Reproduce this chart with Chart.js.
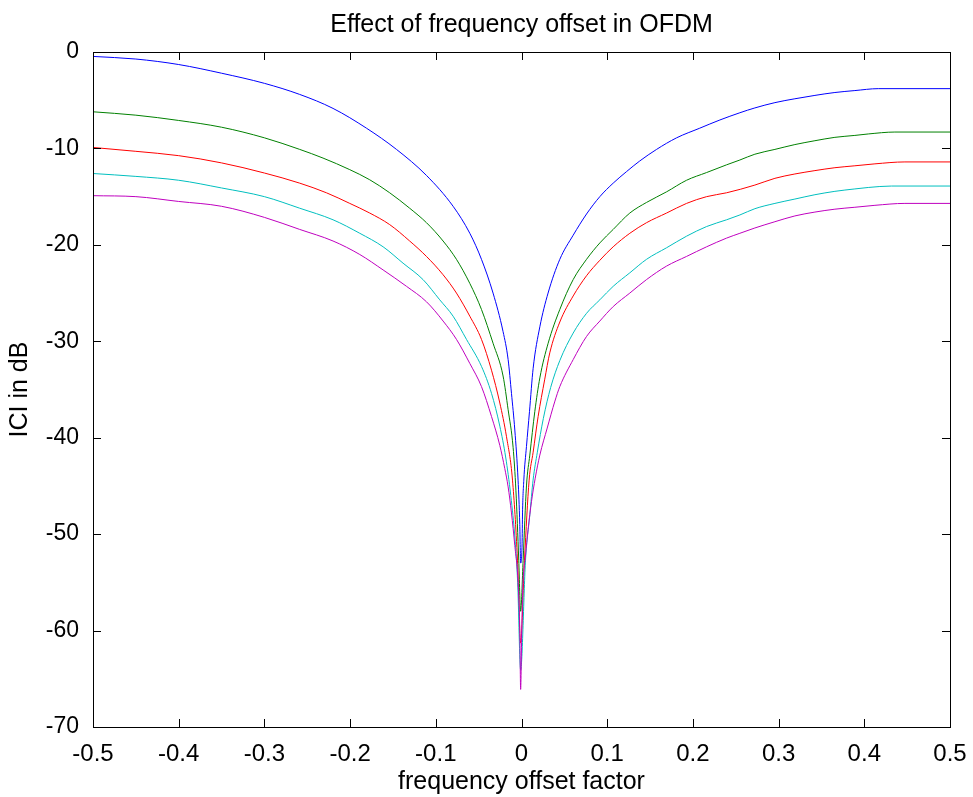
<!DOCTYPE html>
<html>
<head>
<meta charset="utf-8">
<title>Effect of frequency offset in OFDM</title>
<script src="https://cdn.jsdelivr.net/npm/chart.js@4.4.0/dist/chart.umd.min.js"></script>
<style>
  body { margin: 0; background: #fff; }
  canvas { display: block; }
</style>
</head>
<body>
<canvas id="ici-chart" width="973" height="797"></canvas>
<script>
// tick values of both axes
const xTicks = [-0.5, -0.4, -0.3, -0.2, -0.1, 0, 0.1, 0.2, 0.3, 0.4, 0.5];
const yTicks = [-70, -60, -50, -40, -30, -20, -10, 0];

const chartTitle = 'Effect of frequency offset in OFDM';

// [frequency offset factor, ICI in dB]
const blue = [[-0.5,-0.46],[-0.45,-0.73],[-0.4,-1.3],[-0.35,-2.2],[-0.3,-3.25],[-0.2588,-4.4],[-0.2199,-5.85],[-0.1809,-7.9],[-0.1459,-10.1],[-0.1109,-12.8],[-0.0798,-16.0],[-0.0603,-18.8],[-0.0467,-21.5],[-0.0332,-25.0],[-0.0215,-29.0],[-0.0156,-31.9],[-0.0117,-35.4],[-0.0078,-39.2],[-0.004,-44.4],[-0.002,-49.0],[-0.001,-53.0],[0.0007,-51.0],[0.0012,-47.8],[0.0027,-44.4],[0.0058,-40.9],[0.0093,-37.3],[0.0136,-32.8],[0.0214,-28.5],[0.031,-25.0],[0.0447,-21.5],[0.0603,-19.0],[0.0759,-16.8],[0.0914,-15.0],[0.107,-13.6],[0.1226,-12.4],[0.138,-11.3],[0.1576,-10.1],[0.181,-8.9],[0.208,-7.9],[0.2315,-7.05],[0.2548,-6.3],[0.2723,-5.8],[0.2957,-5.25],[0.319,-4.85],[0.3424,-4.5],[0.3657,-4.2],[0.389,-4.0],[0.4163,-3.8],[0.5,-3.8]];
const green = [[-0.5,-6.2],[-0.45,-6.55],[-0.4,-7.1],[-0.35,-7.8],[-0.3,-8.9],[-0.2588,-10.1],[-0.2316,-11.0],[-0.2004,-12.2],[-0.1771,-13.25],[-0.1538,-14.6],[-0.1305,-16.2],[-0.1109,-17.7],[-0.0915,-19.6],[-0.0759,-21.5],[-0.0603,-24.0],[-0.0467,-26.7],[-0.0332,-30.2],[-0.0215,-33.6],[-0.0156,-37.1],[-0.0098,-41.0],[-0.0065,-45.5],[-0.0032,-52.7],[-0.001,-58.0],[0.0019,-52.7],[0.0058,-45.0],[0.0097,-41.8],[0.0155,-37.3],[0.0214,-33.8],[0.0311,-30.2],[0.0447,-26.7],[0.0603,-23.6],[0.0759,-21.5],[0.0914,-19.8],[0.107,-18.4],[0.1264,-16.7],[0.1459,-15.6],[0.1693,-14.5],[0.1926,-13.3],[0.216,-12.5],[0.2393,-11.7],[0.2548,-11.2],[0.2723,-10.6],[0.2957,-10.1],[0.319,-9.6],[0.3424,-9.2],[0.3657,-8.85],[0.389,-8.65],[0.4046,-8.5],[0.4357,-8.3],[0.5,-8.3]];
const red = [[-0.5,-9.9],[-0.45,-10.3],[-0.4,-10.75],[-0.35,-11.5],[-0.3,-12.55],[-0.2588,-13.6],[-0.2276,-14.6],[-0.2004,-15.7],[-0.1771,-16.7],[-0.1538,-17.9],[-0.1305,-19.6],[-0.1109,-21.2],[-0.0915,-23.1],[-0.0759,-25.0],[-0.0603,-27.4],[-0.0467,-29.8],[-0.035,-33.0],[-0.0253,-36.4],[-0.0175,-39.9],[-0.0105,-44.4],[-0.0047,-52.7],[-0.001,-61.3],[0.0035,-52.7],[0.0089,-44.4],[0.0136,-41.5],[0.0194,-37.8],[0.027,-34.0],[0.033,-31.2],[0.0447,-28.0],[0.0603,-25.3],[0.0759,-23.2],[0.0914,-21.6],[0.107,-20.2],[0.1264,-18.8],[0.1459,-17.7],[0.1693,-16.7],[0.1926,-15.7],[0.216,-15.0],[0.2393,-14.6],[0.2723,-13.8],[0.2957,-13.1],[0.319,-12.65],[0.3424,-12.3],[0.3657,-12.0],[0.389,-11.8],[0.4124,-11.6],[0.4474,-11.4],[0.5,-11.4]];
const cyan = [[-0.5,-12.6],[-0.45,-12.9],[-0.4,-13.3],[-0.35,-14.1],[-0.3,-15.0],[-0.2588,-16.2],[-0.2199,-17.4],[-0.1887,-18.8],[-0.1615,-20.2],[-0.1382,-21.9],[-0.1149,-23.6],[-0.0954,-25.7],[-0.0798,-27.4],[-0.0642,-29.8],[-0.0467,-32.6],[-0.035,-35.4],[-0.0253,-38.8],[-0.0185,-42.0],[-0.0125,-46.0],[-0.0075,-50.6],[-0.0045,-55.0],[-0.001,-64.1],[0.0047,-52.7],[0.0097,-48.0],[0.0135,-44.4],[0.0185,-41.5],[0.0255,-38.0],[0.034,-34.8],[0.0447,-32.0],[0.0603,-29.15],[0.0759,-27.1],[0.0914,-25.7],[0.107,-24.3],[0.1264,-22.9],[0.1459,-21.5],[0.1693,-20.3],[0.1926,-19.1],[0.216,-18.1],[0.2393,-17.4],[0.2548,-16.9],[0.2723,-16.25],[0.2957,-15.7],[0.319,-15.25],[0.3424,-14.8],[0.3657,-14.45],[0.389,-14.2],[0.4046,-14.05],[0.4317,-13.9],[0.5,-13.9]];
const magenta = [[-0.5,-14.9],[-0.45,-15.0],[-0.4,-15.5],[-0.35,-16.0],[-0.3,-17.15],[-0.2588,-18.4],[-0.2199,-19.6],[-0.1887,-21.0],[-0.1615,-22.6],[-0.1342,-24.3],[-0.1109,-25.9],[-0.0915,-27.9],[-0.0759,-29.8],[-0.0603,-32.3],[-0.0467,-34.7],[-0.035,-37.8],[-0.0253,-40.8],[-0.0195,-43.2],[-0.0156,-45.1],[-0.0117,-47.8],[-0.0078,-51.2],[-0.004,-55.0],[-0.002,-60.0],[-0.001,-66.1],[0.0003,-60.0],[0.0015,-55.5],[0.0045,-52.4],[0.0077,-49.5],[0.0117,-46.6],[0.016,-44.2],[0.0214,-41.8],[0.03,-39.0],[0.039,-36.2],[0.0447,-34.7],[0.0603,-31.9],[0.0759,-29.5],[0.0914,-27.9],[0.107,-26.4],[0.1264,-25.0],[0.1459,-23.6],[0.1693,-22.2],[0.1926,-21.2],[0.216,-20.2],[0.2393,-19.3],[0.2548,-18.8],[0.2723,-18.25],[0.2957,-17.6],[0.319,-17.0],[0.3424,-16.6],[0.3657,-16.3],[0.389,-16.1],[0.4124,-15.9],[0.4474,-15.7],[0.5,-15.7]];

const seriesList   = [blue, green, red, cyan, magenta];
const seriesColors = ['#0000ff', '#008000', '#ff0000', '#00bfbf', '#bf00bf'];

const FONT = "'Liberation Sans', Arial, Helvetica, sans-serif";

// MATLAB style box with inward ticks, title centred over the axes
const boxPlugin = {
  id: 'box',
  afterDraw: function(chart) {
    const ctx = chart.ctx;
    const a = chart.chartArea;
    const xs = chart.scales.x, ys = chart.scales.y;
    ctx.save();
    ctx.strokeStyle = '#000';
    ctx.lineWidth = 1;
    ctx.beginPath();
    xTicks.forEach(function(v) {
      const px = Math.round(xs.getPixelForValue(v)) + 0.5;
      ctx.moveTo(px, a.bottom); ctx.lineTo(px, a.bottom - 8);
      ctx.moveTo(px, a.top);    ctx.lineTo(px, a.top + 8);
    });
    yTicks.forEach(function(v) {
      const py = Math.round(ys.getPixelForValue(v)) + 0.5;
      ctx.moveTo(a.left, py);  ctx.lineTo(a.left + 8, py);
      ctx.moveTo(a.right, py); ctx.lineTo(a.right - 8, py);
    });
    ctx.stroke();
    ctx.strokeRect(Math.round(a.left) + 0.5, Math.round(a.top) + 0.5,
                   Math.round(a.right - a.left), Math.round(a.bottom - a.top));

    ctx.fillStyle = '#000';
    ctx.font = '25px ' + FONT;
    ctx.textAlign = 'center';
    ctx.textBaseline = 'alphabetic';
    ctx.fillText(chartTitle, (a.left + a.right) / 2, 32);
    ctx.restore();
  }
};

new Chart(document.getElementById('ici-chart'), {
  type: 'line',
  data: {
    datasets: seriesList.map(function(s, i) {
      return {
        data: s.map(function(p) { return { x: p[0], y: p[1] }; }),
        borderColor: seriesColors[i],
        borderWidth: 1,
        pointRadius: 0,
        cubicInterpolationMode: 'monotone',
        fill: false,
        order: seriesList.length - i
      };
    })
  },
  options: {
    responsive: false,
    animation: false,
    devicePixelRatio: 1,
    layout: { padding: { left: 0, right: 23, top: 52, bottom: 0 } },
    plugins: {
      legend: { display: false },
      tooltip: { enabled: false },
      title: { display: false }
    },
    scales: {
      x: {
        type: 'linear',
        min: -0.5, max: 0.5,
        afterBuildTicks: function(scale) { scale.ticks = xTicks.map(function(v) { return { value: v }; }); },
        afterFit: function(scale) { scale.height = 70; },
        grid: { display: false },
        border: { display: false },
        ticks: {
          color: '#000', padding: 5, maxRotation: 0, autoSkip: false,
          font: { family: FONT, size: 24 },
          callback: function(v) { return v === 0 ? '0' : v.toFixed(1); }
        },
        title: {
          display: true, text: 'frequency offset factor', color: '#000',
          font: { family: FONT, size: 25 },
          padding: { top: 0, bottom: 0 }
        }
      },
      y: {
        type: 'linear',
        min: -70, max: 0,
        afterBuildTicks: function(scale) { scale.ticks = yTicks.map(function(v) { return { value: v }; }); },
        afterFit: function(scale) { scale.width = 93; },
        grid: { display: false },
        border: { display: false },
        ticks: {
          color: '#000', padding: 6, autoSkip: false,
          font: { family: FONT, size: 23 }
        },
        title: {
          display: true, text: 'ICI in dB', color: '#000',
          font: { family: FONT, size: 25 },
          padding: { top: 5, bottom: 0 }
        }
      }
    }
  },
  plugins: [boxPlugin]
});
</script>
</body>
</html>
